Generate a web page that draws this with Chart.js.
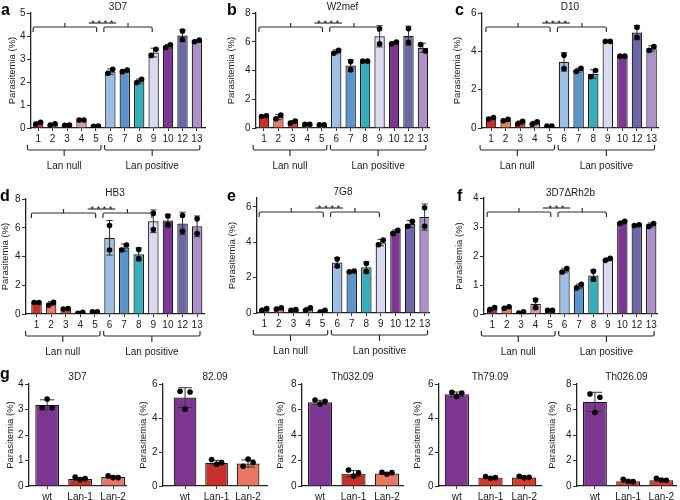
<!DOCTYPE html>
<html><head><meta charset="utf-8">
<script src="https://cdn.jsdelivr.net/npm/chart.js@4.4.1/dist/chart.umd.min.js"></script>
<style>
html,body{margin:0;padding:0;background:#fff;}
#wrap{position:relative;width:680px;height:500px;overflow:hidden;font-family:"Liberation Sans",Arial,Helvetica,sans-serif;}
.lt{position:absolute;font-weight:bold;font-size:16px;line-height:16px;color:#000;}
</style></head><body><div id="wrap"></div>
<script>
// ---------------- data ----------------
const strainLabels = ['1','2','3','4','5','6','7','8','9','10','12','13'];
const knockLabels = ['wt','Lan-1','Lan-2'];
const lanGroups = ['Lan null','Lan positive'];
const yAxisLabel = 'Parasitemia (%)';

const titleA = '3D7', sigA = '****';
const meanA = [0.21,0.15,0.12,0.34,0.07,2.45,2.48,2.03,3.28,3.55,4.02,3.78];
const sdA   = [0.05,0.04,0.01,0.01,0.01,0.12,0.05,0.10,0.19,0.08,0.26,0.05];
const repA  = [[0.17,0.25],[0.13,0.18],[0.12,0.13],[0.35,0.35],[0.07,0.08],[2.38,2.55],[2.45,2.52],[1.98,2.12],[3.15,3.42],[3.50,3.62],[3.85,4.22],[3.75,3.82]];
const yTicksA = [0,1,2,3,4,5];

const titleB = 'W2mef', sigB = '****';
const meanB = [0.82,0.76,0.41,0.25,0.22,5.30,4.35,4.65,6.38,5.92,6.42,5.58];
const sdB   = [0.04,0.18,0.10,0.01,0.01,0.14,0.40,0.02,0.74,0.08,0.67,0.32];
const repB  = [[0.80,0.85],[0.64,0.90],[0.34,0.48],[0.25,0.25],[0.22,0.22],[5.20,5.40],[4.62,4.06],[4.65,4.65],[6.90,5.85],[5.86,5.98],[6.90,5.95],[5.80,5.35]];
const yTicksB = [0,2,4,6,8];

const titleC = 'D10', sigC = '****';
const meanC = [0.50,0.41,0.28,0.26,0.10,3.45,3.02,2.82,4.52,3.75,4.98,4.15];
const sdC   = [0.05,0.05,0.09,0.09,0.01,0.48,0.10,0.22,0.02,0.02,0.37,0.14];
const repC  = [[0.47,0.55],[0.38,0.45],[0.22,0.35],[0.20,0.33],[0.10,0.10],[3.80,3.10],[2.95,3.12],[2.68,3.00],[4.52,4.52],[3.75,3.75],[5.25,4.72],[4.05,4.25]];
const yTicksC = [0,2,4,6];

const titleD = 'HB3', sigD = '****';
const meanD = [0.80,0.72,0.37,0.08,0.15,5.30,4.62,4.15,6.45,6.50,6.30,6.10];
const sdD   = [0.01,0.14,0.02,0.05,0.01,1.20,0.25,0.45,0.79,0.44,0.78,0.72];
const repD  = [[0.80,0.80],[0.62,0.82],[0.35,0.38],[0.05,0.12],[0.15,0.15],[6.15,4.45],[4.45,4.80],[4.48,3.85],[7.00,5.88],[6.82,6.20],[6.85,5.75],[6.62,5.60]];
const yTicksD = [0,2,4,6,8];

const titleE = '7G8', sigE = '****';
const meanE = [0.20,0.26,0.18,0.22,0.10,2.85,2.35,2.58,3.98,4.58,5.03,5.42];
const sdE   = [0.07,0.05,0.03,0.10,0.07,0.28,0.03,0.32,0.18,0.12,0.20,0.74];
const repE  = [[0.15,0.25],[0.22,0.30],[0.15,0.20],[0.15,0.30],[0.05,0.15],[2.65,3.05],[2.33,2.37],[2.80,2.35],[3.86,4.12],[4.50,4.68],[4.90,5.18],[5.95,4.90]];
const yTicksE = [0,2,4,6];

const titleF = '3D7\u0394Rh2b', sigF = '***';
const meanF = [0.18,0.22,0.05,0.35,0.13,1.50,0.95,1.33,1.88,3.15,3.07,3.07];
const sdF   = [0.05,0.04,0.04,0.18,0.01,0.08,0.08,0.19,0.05,0.06,0.02,0.07];
const repF  = [[0.15,0.22],[0.20,0.25],[0.03,0.08],[0.48,0.22],[0.13,0.13],[1.45,1.57],[0.90,1.02],[1.47,1.20],[1.85,1.92],[3.12,3.20],[3.05,3.08],[3.02,3.12]];
const yTicksF = [0,1,2,3,4];

const titleG1 = '3D7';
const meanG1 = [3.18,0.27,0.35];
const sdG1   = [0.20,0.05,0.04];
const repG1  = [[3.07,3.41,3.07],[0.35,0.25,0.29],[0.40,0.33,0.33]];
const yTicksG1 = [0,1,2,3,4];

const titleG2 = '82.09';
const meanG2 = [5.20,1.37,1.32];
const sdG2   = [0.58,0.14,0.21];
const repG2  = [[5.57,4.52,5.53],[1.56,1.28,1.38],[1.16,1.58,1.38]];
const yTicksG2 = [0,2,4,6];

const titleG3 = 'Th032.09';
const meanG3 = [6.56,0.97,0.98];
const sdG3   = [0.16,0.24,0.08];
const repG3  = [[6.75,6.43,6.64],[1.26,0.79,1.00],[1.08,0.92,1.05]];
const yTicksG3 = [0,2,4,6,8];

const titleG4 = 'Th79.09';
const meanG4 = [5.40,0.49,0.50];
const sdG4   = [0.13,0.05,0.04];
const repG4  = [[5.51,5.27,5.47],[0.56,0.45,0.49],[0.57,0.49,0.51]];
const yTicksG4 = [0,2,4,6];

const titleG5 = 'Th026.09';
const meanG5 = [6.60,0.38,0.45];
const sdG5   = [0.75,0.09,0.07];
const repG5  = [[7.22,5.77,6.96],[0.52,0.37,0.34],[0.60,0.47,0.45]];
const yTicksG5 = [0,2,4,6,8];

// ---------------- styles / layout ----------------
const FF = '"Liberation Sans", Arial, Helvetica, sans-serif';
const TXT = '#1a1a1a';
const POS = ['#9dbfe6','#5b95cc','#36adba','#dcdaf0','#7d3792','#6d67a8','#ad90c8'];
const NULLC = {
  a:['#d4245a','#ef7a55','#d9382a','#d99bb2','#fbe9ef'],
  b:['#c8302a','#ec7966','#dc3a2b','#dba3b8','#fbeff3'],
  c:['#cb2e26','#ee7b62','#dc3a2b','#d99bb0','#c0287a'],
  d:['#c8302a','#ec7966','#dc3a2b','#d99bb0','#fbeff3'],
  e:['#c8302a','#ec7966','#dc3a2b','#d99bb0','#c0287a'],
  f:['#c8302a','#ec7966','#dc3a2b','#d597ab','#c21f72']
};
const KO1 = ['#7d3792','#c5302a','#ea7664'];
const KO2 = ['#7d3792','#d9392a','#de3b2b'];
const GROUP_TOP = [[-0.35,4.05],[4.55,7.9]];
const GROUP_BOT = [[-0.75,4.35],[4.6,11.2]];
const SIG_SPAN = [3.5,5.4,4.45];
const TICK_SIZE = 10, YTITLE_SIZE = 9.5, TITLE_SIZE = 10;

const PANELS = [
 {L:'a',lx:1,ly:2,title:titleA,labels:strainLabels,mean:meanA,sd:sdA,rep:repA,yt:yTicksA,yMax:5,sig:sigA,box:[0,0,225,180],area:[31,13,205,128],xr:[-0.5,11.56],ytx:12,cols:NULLC.a.concat(POS),groups:true,tg:6},
 {L:'b',lx:227,ly:2,title:titleB,labels:strainLabels,mean:meanB,sd:sdB,rep:repB,yt:yTicksB,yMax:8,sig:sigB,box:[225,0,225,180],area:[256,13,429,128],xr:[-0.55,11.42],ytx:231,cols:NULLC.b.concat(POS),groups:true,tg:6},
 {L:'c',lx:455,ly:2,title:titleC,labels:strainLabels,mean:meanC,sd:sdC,rep:repC,yt:yTicksC,yMax:6,sig:sigC,box:[450,0,230,180],area:[482,13,658,128],xr:[-0.62,11.44],ytx:457,cols:NULLC.c.concat(POS),groups:true,tg:6},
 {L:'d',lx:0,ly:188,title:titleD,labels:strainLabels,mean:meanD,sd:sdD,rep:repD,yt:yTicksD,yMax:8,sig:sigD,box:[0,180,225,180],area:[26,199,204,314],xr:[-0.72,11.47],ytx:5,cols:NULLC.d.concat(POS),groups:true,tg:6},
 {L:'e',lx:227,ly:188,title:titleE,labels:strainLabels,mean:meanE,sd:sdE,rep:repE,yt:yTicksE,yMax:6.5,sig:sigE,box:[225,180,225,180],area:[257,198,429,313],xr:[-0.5,11.3],ytx:232,cols:NULLC.e.concat(POS),groups:true,tg:6},
 {L:'f',lx:457,ly:188,title:titleF,labels:strainLabels,mean:meanF,sd:sdF,rep:repF,yt:yTicksF,yMax:4,sig:sigF,box:[450,180,230,180],area:[484,198,657,314],xr:[-0.57,11.4],ytx:459,cols:NULLC.f.concat(POS),groups:true,tg:5},
 {L:'g',lx:0,ly:366,title:titleG1,labels:knockLabels,mean:meanG1,sd:sdG1,rep:repG1,yt:yTicksG1,yMax:4,box:[0,360,135,140],area:[29,384,126,486],xr:[-0.55,2.39],ytx:10,cols:KO1,groups:false,tg:7},
 {title:titleG2,labels:knockLabels,mean:meanG2,sd:sdG2,rep:repG2,yt:yTicksG2,yMax:6,box:[135,360,137,140],area:[163,384,267,486],xr:[-0.7,2.6],ytx:143,cols:KO1,groups:false,tg:7},
 {title:titleG3,labels:knockLabels,mean:meanG3,sd:sdG3,rep:repG3,yt:yTicksG3,yMax:8,box:[272,360,137,140],area:[302,384,403,486],xr:[-0.54,2.48],ytx:280,cols:KO1,groups:false,tg:7},
 {title:titleG4,labels:knockLabels,mean:meanG4,sd:sdG4,rep:repG4,yt:yTicksG4,yMax:6,box:[409,360,136,140],area:[439,384,542,486],xr:[-0.53,2.5],ytx:417,cols:KO2,groups:false,tg:7},
 {title:titleG5,labels:knockLabels,mean:meanG5,sd:sdG5,rep:repG5,yt:yTicksG5,yMax:8,box:[545,360,135,140],area:[577,384,677,486],xr:[-0.54,2.44],ytx:552,cols:KO2,groups:false,tg:7}
];

const deco = {
  id:'deco',
  afterDatasetDraw(chart, args){
    if (args.meta.type !== 'bar') return;
    const o = chart.options.plugins.deco, ys = chart.scales.y, ctx = chart.ctx;
    ctx.save(); ctx.strokeStyle = '#333'; ctx.lineWidth = 1;
    args.meta.data.forEach((el,i)=>{
      const m = o.mean[i], s = o.sd[i];
      const yt = ys.getPixelForValue(m+s), yb = ys.getPixelForValue(Math.max(m-s,0));
      const cw = el.width*0.3;
      ctx.beginPath();
      ctx.moveTo(el.x, yt); ctx.lineTo(el.x, yb);
      ctx.moveTo(el.x-cw, yt); ctx.lineTo(el.x+cw, yt);
      ctx.moveTo(el.x-cw, yb); ctx.lineTo(el.x+cw, yb);
      ctx.stroke();
    });
    ctx.restore();
  },
  afterDraw(chart){
    const o = chart.options.plugins.deco, ctx = chart.ctx, ca = chart.chartArea, xs = chart.scales.x;
    const X = v => xs.getPixelForValue(v);
    ctx.save();
    ctx.fillStyle = TXT; ctx.strokeStyle = '#2a2a2a'; ctx.lineWidth = 1.15;
    ctx.font = TITLE_SIZE + 'px ' + FF; ctx.textAlign = 'center'; ctx.textBaseline = 'middle';
    ctx.fillText(o.title, (ca.left+ca.right)/2, ca.top - o.tg);
    if (o.groups){
      const yb = ca.top + 14;
      GROUP_TOP.forEach(([u1,u2])=>{
        const a = X(u1), b = X(u2), c = (a+b)/2;
        ctx.beginPath();
        ctx.moveTo(a, yb+5); ctx.lineTo(a, yb+1.5); ctx.quadraticCurveTo(a, yb, a+1.5, yb);
        ctx.lineTo(b-1.5, yb); ctx.quadraticCurveTo(b, yb, b, yb+1.5); ctx.lineTo(b, yb+5);
        ctx.moveTo(c, yb); ctx.lineTo(c, yb-4);
        ctx.stroke();
      });
      const ysg = ca.top + 10;
      ctx.beginPath(); ctx.moveTo(X(SIG_SPAN[0]), ysg); ctx.lineTo(X(SIG_SPAN[1]), ysg); ctx.stroke();
      ctx.font = '9px ' + FF; ctx.textBaseline = 'alphabetic';
      const n = o.sig.length, sc = X(SIG_SPAN[2]);
      for (let k=0;k<n;k++) ctx.fillText(o.sig[k], sc + (k-(n-1)/2)*6.2, ysg + 3);
      const yB = ca.bottom + 22;
      GROUP_BOT.forEach(([u1,u2],gi)=>{
        const a = X(u1), b = X(u2), c = (a+b)/2;
        ctx.beginPath();
        ctx.moveTo(a, yB-5); ctx.lineTo(a, yB-1.5); ctx.quadraticCurveTo(a, yB, a+1.5, yB);
        ctx.lineTo(b-1.5, yB); ctx.quadraticCurveTo(b, yB, b, yB-1.5); ctx.lineTo(b, yB-5);
        ctx.moveTo(c, yB); ctx.lineTo(c, yB+6);
        ctx.stroke();
        ctx.font = TICK_SIZE + 'px ' + FF; ctx.textBaseline = 'middle';
        ctx.fillText(lanGroups[gi], c, ca.bottom + 38);
      });
    }
    ctx.restore();
  }
};

const wrap = document.getElementById('wrap');
PANELS.forEach(P=>{
  const [bl,bt,bw,bh] = P.box, [x0,y0,x1,y1] = P.area;
  const cv = document.createElement('canvas');
  cv.width = bw; cv.height = bh;
  cv.style.cssText = `position:absolute;left:${bl}px;top:${bt}px;width:${bw}px;height:${bh}px;`;
  wrap.appendChild(cv);
  if (P.L){
    const d = document.createElement('div');
    d.className = 'lt'; d.textContent = P.L;
    d.style.left = P.lx + 'px'; d.style.top = P.ly + 'px';
    wrap.appendChild(d);
  }
  const yW = x0 - bl, xH = bt + bh - y1, padTop = y0 - bt, padRight = bl + bw - x1;
  const pxPerY = (y1 - y0) / P.yMax;
  const pxPerX = (x1 - x0) / (P.xr[1] - P.xr[0]);
  const pts = [];
  P.rep.forEach((r,i)=>{
    let offs;
    if (r.length === 2){
      const s = 2.4 / pxPerX;
      offs = Math.abs(r[0]-r[1]) * pxPerY < 7 ? [-s, s] : [0, 0];
    } else {
      const s = 5 / pxPerX;
      offs = r.map((_,k)=> (k-(r.length-1)/2)*s);
    }
    r.forEach((v,k)=>pts.push({x:i+offs[k], y:v}));
  });
  const tPad = Math.max(0, P.ytx - bl - YTITLE_SIZE*1.2/2);
  const tickFont = {family:FF, size:TICK_SIZE};
  new Chart(cv, {
    type:'bar',
    data:{datasets:[
      {type:'bar', data:P.mean.map((m,i)=>({x:i,y:m})), backgroundColor:P.cols, borderColor:'#1a1a1a', borderWidth:1.2, barPercentage:0.72, categoryPercentage:1, order:2},
      {type:'scatter', data:pts, pointRadius:2.8, pointBackgroundColor:'#000', pointBorderWidth:0, order:1}
    ]},
    options:{
      responsive:false, animation:false, devicePixelRatio:1, events:[],
      layout:{padding:{top:padTop, right:padRight, left:0, bottom:0}},
      plugins:{legend:{display:false}, tooltip:{enabled:false},
        deco:{mean:P.mean, sd:P.sd, title:P.title, sig:P.sig||'', groups:P.groups, tg:P.tg}},
      scales:{
        x:{type:'linear', min:P.xr[0], max:P.xr[1], bounds:'data', offset:false,
           afterBuildTicks:s=>{ s.ticks = P.labels.map((_,i)=>({value:i})); },
           afterFit:s=>{ s.height = xH; },
           ticks:{callback:v=>P.labels[v] ?? '', font:tickFont, color:TXT, padding:2, autoSkip:false, maxRotation:0, minRotation:0},
           grid:{display:true, drawOnChartArea:false, drawTicks:true, tickLength:3, color:'#333', lineWidth:1, offset:false},
           border:{display:true, color:'#222', width:1.3}},
        y:{type:'linear', min:0, max:P.yMax, bounds:'data',
           afterBuildTicks:s=>{ s.ticks = P.yt.map(v=>({value:v})); },
           afterFit:s=>{ s.width = yW; },
           ticks:{font:tickFont, color:TXT, padding:1.5},
           grid:{display:true, drawOnChartArea:false, drawTicks:true, tickLength:4, color:'#333', lineWidth:1},
           border:{display:true, color:'#222', width:1.3},
           title:{display:true, text:yAxisLabel, font:{family:FF, size:YTITLE_SIZE}, color:TXT, padding:{top:tPad, bottom:0}}}
      }
    },
    plugins:[deco]
  });
});
</script></body></html>
